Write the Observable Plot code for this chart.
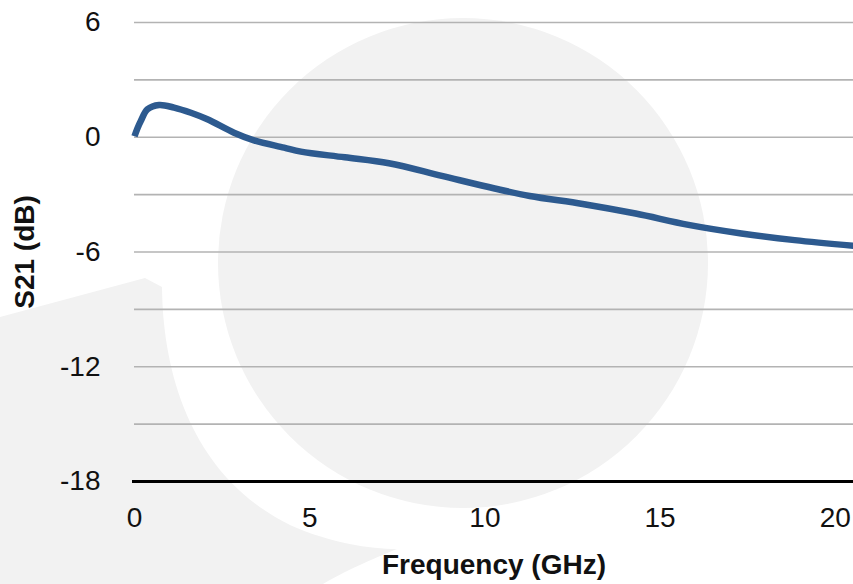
<!DOCTYPE html>
<html>
<head>
<meta charset="utf-8">
<script src="https://cdn.jsdelivr.net/npm/d3@7"></script>
<script src="https://cdn.jsdelivr.net/npm/@observablehq/plot@0.6"></script>
<style>
  html, body { margin: 0; padding: 0; background: #fff; overflow: hidden; }
  #wrap { position: relative; width: 853px; height: 584px; }
  #bg { position: absolute; left: 0; top: 0; }
  #chart { position: absolute; left: 0; top: 0; }
</style>
</head>
<body>
<div id="wrap">
  <svg id="bg" width="853" height="584" viewBox="0 0 853 584">
    <circle cx="463" cy="263" r="245" fill="#f2f2f2"></circle>
    <path d="M0,317 L145,278 L162,287 C163,380 195,478 290,525 C330,543 370,549 397,549 C380,556 350,568 323,584 L0,584 Z" fill="#f2f2f2"></path>
  </svg>
  <div id="chart"></div>
</div>
<script>
const freq = [0, 0.08, 0.18, 0.37, 0.7, 1.13, 1.61, 2.08, 2.84, 3.41, 4.27, 4.75, 6.0, 7.26, 8.77, 10.28, 11.28, 12.79, 14.3, 15.81, 17.32, 18.84, 20.52];
const s21  = [0.05, 0.45, 0.85, 1.46, 1.69, 1.55, 1.28, 0.94, 0.24, -0.16, -0.54, -0.75, -1.05, -1.36, -2.02, -2.68, -3.07, -3.49, -3.99, -4.58, -5.03, -5.38, -5.68];
const xTicks = [0, 5, 10, 15, 20];
const yTicks = [-18, -12, -6, 0, 6];
const yGrid = [-15, -12, -9, -6, -3, 0, 3, 6];
const xTitle = "Frequency (GHz)";
const yTitle = "S21 (dB)";

const data = freq.map((f, i) => ({f, v: s21[i]}));
const font = "'Liberation Sans', Arial, Helvetica, sans-serif";
const fmt = d => String(d);

const chart = Plot.plot({
  width: 853,
  height: 584,
  marginLeft: 134,
  marginRight: 0,
  marginTop: 22,
  marginBottom: 103,
  x: {domain: [0, 20.52]},
  y: {domain: [-18, 6]},
  style: {background: "transparent", fontFamily: font, color: "#111", overflow: "visible"},
  marks: [
    Plot.ruleY(yGrid, {stroke: "#b3b3b3", strokeWidth: 1.7}),
    Plot.ruleY([-18], {stroke: "#000", strokeWidth: 2.8, insetLeft: -2}),
    Plot.line(data, {x: "f", y: "v", stroke: "#2d5a8f", strokeWidth: 6.5, curve: "catmull-rom", strokeLinecap: "butt"}),
    Plot.axisX({ticks: xTicks, tickFormat: fmt, tickSize: 0, tickPadding: 26, fontSize: 28, label: null}),
    Plot.axisY({ticks: yTicks, tickFormat: fmt, tickSize: 0, tickPadding: 34, fontSize: 28, label: null}),
    Plot.text([xTitle], {text: d => d, frameAnchor: "bottom", textAnchor: "middle", lineAnchor: "middle", dy: 84, fontSize: 28, fontWeight: "bold", fill: "#111"}),
    Plot.text([yTitle], {text: d => d, frameAnchor: "left", textAnchor: "middle", lineAnchor: "middle", dx: -109, rotate: -90, fontSize: 28, fontWeight: "bold", fill: "#111"})
  ]
});
document.getElementById("chart").appendChild(chart);
</script>
</body>
</html>
